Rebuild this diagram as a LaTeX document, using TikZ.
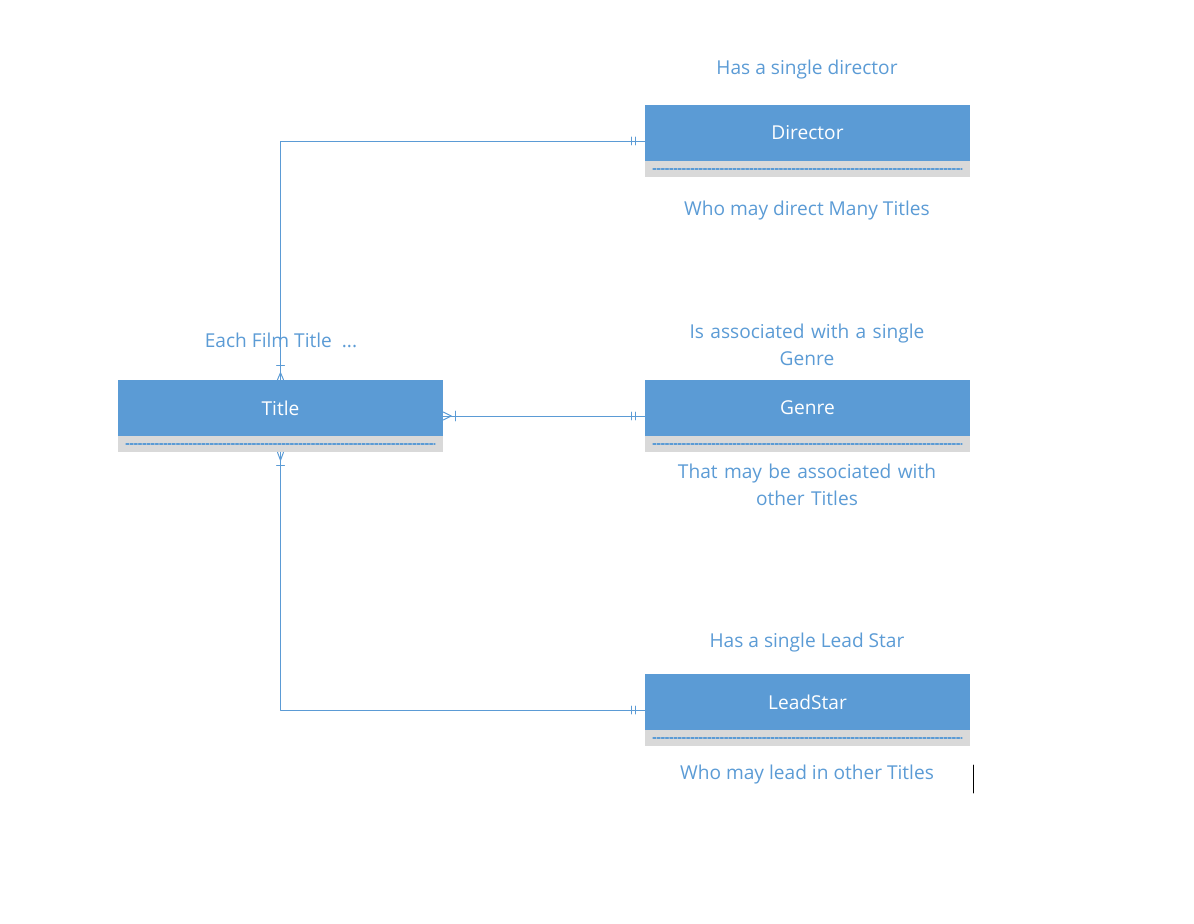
\documentclass[tikz,border=0pt]{standalone}
\usepackage{fontspec}
\setmainfont{Open Sans}
\usepackage{xcolor}
\usepackage{tikz}
\usetikzlibrary{calc}
\definecolor{erblue}{RGB}{91,155,213}
\definecolor{ergray}{RGB}{217,217,217}
\tikzstyle{conn} = [line width=0.7pt,color=erblue]
\tikzstyle{note} = [text=erblue,font=\fontsize{13.6}{16}\selectfont,align=center,inner sep=0pt]
\tikzstyle{headtext} = [text=white,font=\fontsize{13.6}{16}\selectfont,yshift=0.2cm,inner sep=0pt]
\tikzstyle{entity} = [rectangle,minimum width=8.125cm,minimum height=1.8cm,inner sep=0pt,fill=ergray,
    path picture={
        \fill[erblue] (path picture bounding box.north west) rectangle ([yshift=0.4cm]path picture bounding box.south east);
        \draw[erblue,line width=0.8pt,dash pattern=on 2pt off 1pt] ([xshift=0.2cm,yshift=0.2cm]path picture bounding box.south west) -- ([xshift=-0.2cm,yshift=0.2cm]path picture bounding box.south east);
    }]

\begin{document}
\begin{tikzpicture}[line cap=round,line join=round,x=0.025cm,y=-0.025cm]
    \useasboundingbox (0,0) rectangle (1194,924);
    % entities
    \node[entity,label={[headtext]center:Title}] (title) at (280.5,416) {};
    \node[entity,label={[headtext]center:Director}] (director) at (807.5,141) {};
    \node[entity,label={[headtext]center:Genre}] (genre) at (807.5,416) {};
    \node[entity,label={[headtext]center:LeadStar}] (leadstar) at (807.5,710) {};
    % notes
    \node[note] (eachtitle) at (281,340) {Each Film Title\ \ ...};
    \node[note] (dirabove) at (807,70) {Has a single director};
    \node[note] (dirbelow) at (807,211) {Who may direct Many Titles};
    \node[note,text width=7cm] (genabove) at (807,345) {Is associated with a single\\[3pt]Genre};
    \node[note,text width=7.2cm] (genbelow) at (807,485) {That may be associated with\\[3pt]other Titles};
    \node[note] (starabove) at (807,643) {Has a single Lead Star};
    \node[note] (starbelow) at (807,775) {Who may lead in other Titles};
    % connectors
    \draw[conn] (title.north) |- (director.west);
    \draw[conn] (title.east) -- (genre.west);
    \draw[conn] (title.south) |- (leadstar.west);
    % one or many (title side)
    \draw[conn] ($(title.north)+(-3,0)$) -- ($(title.north)+(0,-7)$) -- ($(title.north)+(3,0)$);
    \draw[conn] ($(title.north)+(-4,-14)$) -- ($(title.north)+(4,-14)$);
    \draw[conn] ($(title.east)+(0,-4)$) -- ($(title.east)+(8,0)$) -- ($(title.east)+(0,4)$);
    \draw[conn] ($(title.east)+(12,-5)$) -- ($(title.east)+(12,5)$);
    \draw[conn] ($(title.south)+(-3,0)$) -- ($(title.south)+(0,8)$) -- ($(title.south)+(3,0)$);
    \draw[conn] ($(title.south)+(-4,13)$) -- ($(title.south)+(4,13)$);
    % one and only one
    \draw[conn] ($(director.west)+(-13,-4)$) -- ($(director.west)+(-13,4)$);
    \draw[conn] ($(director.west)+(-9,-4)$) -- ($(director.west)+(-9,4)$);
    \draw[conn] ($(genre.west)+(-13,-4)$) -- ($(genre.west)+(-13,4)$);
    \draw[conn] ($(genre.west)+(-9,-4)$) -- ($(genre.west)+(-9,4)$);
    \draw[conn] ($(leadstar.west)+(-13,-4)$) -- ($(leadstar.west)+(-13,4)$);
    \draw[conn] ($(leadstar.west)+(-9,-4)$) -- ($(leadstar.west)+(-9,4)$);
    % cursor
    \draw[line width=0.7pt] (973,765) -- (973,793);
\end{tikzpicture}
\end{document}
